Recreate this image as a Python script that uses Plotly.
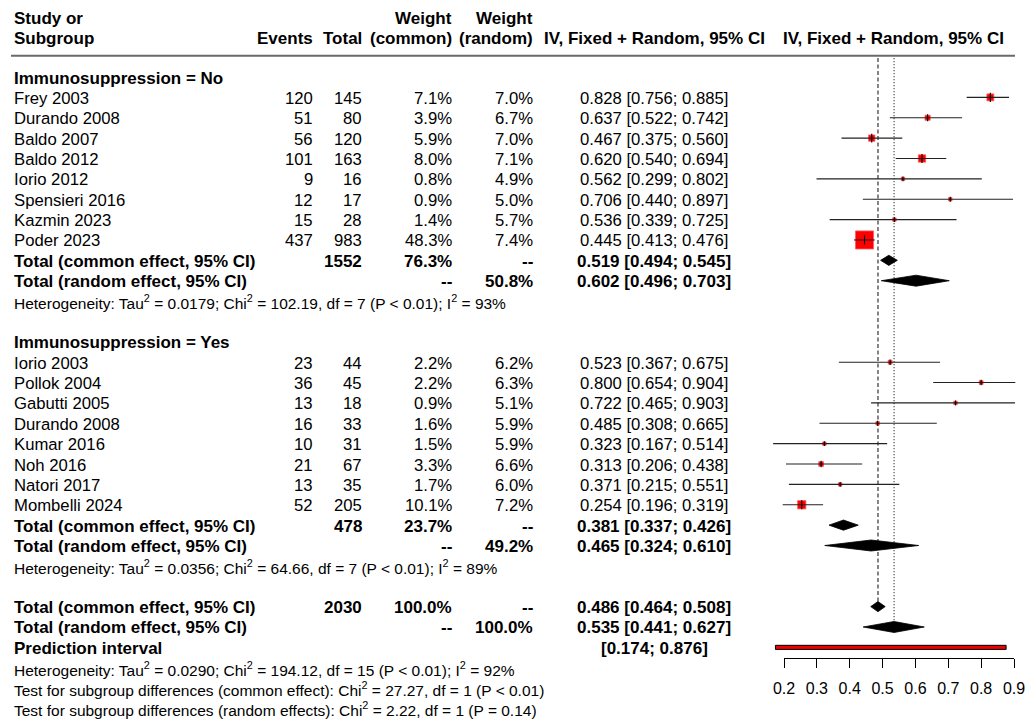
import plotly.graph_objects as go

# ---------------- data ----------------
study_no = ["Frey 2003", "Durando 2008", "Baldo 2007", "Baldo 2012", "Iorio 2012",
            "Spensieri 2016", "Kazmin 2023", "Poder 2023"]
events_no = [120, 51, 56, 101, 9, 12, 15, 437]
total_no = [145, 80, 120, 163, 16, 17, 28, 983]
wcom_no = [7.1, 3.9, 5.9, 8.0, 0.8, 0.9, 1.4, 48.3]
wran_no = [7.0, 6.7, 7.0, 7.1, 4.9, 5.0, 5.7, 7.4]
est_no = [0.828, 0.637, 0.467, 0.620, 0.562, 0.706, 0.536, 0.445]
lo_no = [0.756, 0.522, 0.375, 0.540, 0.299, 0.440, 0.339, 0.413]
hi_no = [0.885, 0.742, 0.560, 0.694, 0.802, 0.897, 0.725, 0.476]

study_yes = ["Iorio 2003", "Pollok 2004", "Gabutti 2005", "Durando 2008", "Kumar 2016",
             "Noh 2016", "Natori 2017", "Mombelli 2024"]
events_yes = [23, 36, 13, 16, 10, 21, 13, 52]
total_yes = [44, 45, 18, 33, 31, 67, 35, 205]
wcom_yes = [2.2, 2.2, 0.9, 1.6, 1.5, 3.3, 1.7, 10.1]
wran_yes = [6.2, 6.3, 5.1, 5.9, 5.9, 6.6, 6.0, 7.2]
est_yes = [0.523, 0.800, 0.722, 0.485, 0.323, 0.313, 0.371, 0.254]
lo_yes = [0.367, 0.654, 0.465, 0.308, 0.167, 0.206, 0.215, 0.196]
hi_yes = [0.675, 0.904, 0.903, 0.665, 0.514, 0.438, 0.551, 0.319]

subgroup_labels = ["Immunosuppression = No", "Immunosuppression = Yes"]
sub_total = [1552, 478]
sub_wcom = [76.3, 23.7]
sub_wran = [50.8, 49.2]
sub_com_est = [0.519, 0.381]
sub_com_lo = [0.494, 0.337]
sub_com_hi = [0.545, 0.426]
sub_ran_est = [0.602, 0.465]
sub_ran_lo = [0.496, 0.324]
sub_ran_hi = [0.703, 0.610]
sub_tau2 = ["0.0179", "0.0356"]
sub_chi2 = ["102.19", "64.66"]
sub_df = [7, 7]
sub_p = ["P < 0.01", "P < 0.01"]
sub_i2 = [93, 89]

all_total = 2030
all_com = [0.486, 0.464, 0.508]
all_ran = [0.535, 0.441, 0.627]
pred_int = [0.174, 0.876]
all_tau2, all_chi2, all_df, all_p, all_i2 = "0.0290", "194.12", 15, "P < 0.01", 92
test_com = ["27.27", 1, "P < 0.01"]
test_ran = ["2.22", 1, "P = 0.14"]

tick_vals = [0.2, 0.3, 0.4, 0.5, 0.6, 0.7, 0.8, 0.9]

# ---------------- geometry ----------------
W, H = 1026, 722
ROW0, ROWH = 77.0, 20.37
FONT = "Liberation Sans, Arial, sans-serif"
FS = 16.7
FSB = 17.0
FS_H = 15.5
YS = -1

C_STUDY, C_EV, C_TOT, C_WC, C_WR, C_CI, C_FH = 12, 315, 364, 454, 535, 654, 893
X02, X09 = 784.0, 1014.0
PPU = (X09 - X02) / 0.7
XL, XR = 0.1, 0.93


def prow(p):
    return (p - ROW0) / ROWH


ann = []


def txt(xp, row, s, anchor="left", bold=False, size=None):
    if size is None:
        size = FSB if bold else FS
    ann.append(dict(x=xp / W, xref="paper", y=row, yref="y",
                    text=(f"<b>{s}</b>" if bold else s), showarrow=False,
                    xanchor=anchor, yanchor="middle", yshift=YS,
                    font=dict(family=FONT, size=size, color="black")))


def ci(e, l, h):
    return f"{e:.3f} [{l:.3f}; {h:.3f}]"


fig = go.Figure()

# header
txt(C_STUDY, prow(17.3), "Study or", bold=True)
txt(C_STUDY, prow(37.5), "Subgroup", bold=True)
txt(C_EV, prow(37.5), "Events", "right", True)
txt(C_TOT, prow(37.5), "Total", "right", True)
txt(C_WC, prow(17.3), "Weight", "right", True)
txt(C_WC, prow(37.5), "(common)", "right", True)
txt(C_WR, prow(17.3), "Weight", "right", True)
txt(C_WR, prow(37.5), "(random)", "right", True)
txt(C_CI, prow(37.5), "IV, Fixed + Random, 95% CI", "center", True)
txt(C_FH, prow(37.5), "IV, Fixed + Random, 95% CI", "center", True)

groups = [
    (study_no, events_no, total_no, wcom_no, wran_no, est_no, lo_no, hi_no),
    (study_yes, events_yes, total_yes, wcom_yes, wran_yes, est_yes, lo_yes, hi_yes),
]

sq_x, sq_y, sq_s, tk_s = [], [], [], []
ln_x, ln_y = [], []
diamonds = []

r = 0
for g, (st, ev, to, wc, wr, es, lo, hi) in enumerate(groups):
    txt(C_STUDY, r, subgroup_labels[g], bold=True)
    r += 1
    for i in range(len(st)):
        txt(C_STUDY, r, st[i])
        txt(C_EV, r, str(ev[i]), "right")
        txt(C_TOT, r, str(to[i]), "right")
        txt(C_WC, r, f"{wc[i]:.1f}%", "right")
        txt(C_WR, r, f"{wr[i]:.1f}%", "right")
        txt(C_CI, r, ci(es[i], lo[i], hi[i]), "center")
        s = max(3.5, 2.6 * wc[i] ** 0.5)
        sq_x.append(es[i]); sq_y.append(r); sq_s.append(s)
        tk_s.append(min(6.5, max(3.5, s)))
        ln_x += [lo[i], hi[i], None]; ln_y += [r, r, None]
        r += 1
    txt(C_STUDY, r, "Total (common effect, 95% CI)", bold=True)
    txt(C_TOT, r, str(sub_total[g]), "right", True)
    txt(C_WC, r, f"{sub_wcom[g]:.1f}%", "right", True)
    txt(C_WR, r, "--", "right", True)
    txt(C_CI, r, ci(sub_com_est[g], sub_com_lo[g], sub_com_hi[g]), "center", True)
    diamonds.append((sub_com_est[g], sub_com_lo[g], sub_com_hi[g], r, 0.25))
    r += 1
    txt(C_STUDY, r, "Total (random effect, 95% CI)", bold=True)
    txt(C_WC, r, "--", "right", True)
    txt(C_WR, r, f"{sub_wran[g]:.1f}%", "right", True)
    txt(C_CI, r, ci(sub_ran_est[g], sub_ran_lo[g], sub_ran_hi[g]), "center", True)
    diamonds.append((sub_ran_est[g], sub_ran_lo[g], sub_ran_hi[g], r, 0.27))
    r += 1
    txt(C_STUDY, r, f"Heterogeneity: Tau<sup>2</sup> = {sub_tau2[g]}; Chi<sup>2</sup> = {sub_chi2[g]}, "
        f"df = {sub_df[g]} ({sub_p[g]}); I<sup>2</sup> = {sub_i2[g]}%", size=FS_H)
    r += 2

# overall
txt(C_STUDY, r, "Total (common effect, 95% CI)", bold=True)
txt(C_TOT, r, str(all_total), "right", True)
txt(C_WC, r, "100.0%", "right", True)
txt(C_WR, r, "--", "right", True)
txt(C_CI, r, ci(*all_com), "center", True)
diamonds.append((all_com[0], all_com[1], all_com[2], r, 0.25))
row_all_com = r
r += 1
txt(C_STUDY, r, "Total (random effect, 95% CI)", bold=True)
txt(C_WC, r, "--", "right", True)
txt(C_WR, r, "100.0%", "right", True)
txt(C_CI, r, ci(*all_ran), "center", True)
diamonds.append((all_ran[0], all_ran[1], all_ran[2], r, 0.27))
row_all_ran = r
r += 1
txt(C_STUDY, r, "Prediction interval", bold=True)
txt(C_CI, r, f"[{pred_int[0]:.3f}; {pred_int[1]:.3f}]", "center", True)
row_pred = r
r += 1
txt(C_STUDY, r, f"Heterogeneity: Tau<sup>2</sup> = {all_tau2}; Chi<sup>2</sup> = {all_chi2}, "
    f"df = {all_df} ({all_p}); I<sup>2</sup> = {all_i2}%", size=FS_H)
r += 1
txt(C_STUDY, r, f"Test for subgroup differences (common effect): Chi<sup>2</sup> = {test_com[0]}, "
    f"df = {test_com[1]} ({test_com[2]})", size=FS_H)
r += 1
txt(C_STUDY, r, f"Test for subgroup differences (random effects): Chi<sup>2</sup> = {test_ran[0]}, "
    f"df = {test_ran[1]} ({test_ran[2]})", size=FS_H)

# reference lines
top = prow(58)
fig.add_trace(go.Scatter(x=[all_com[0], all_com[0]], y=[top, row_all_com - 0.25],
                         mode="lines", line=dict(color="#777777", width=1.8, dash="4px,2.5px"),
                         hoverinfo="skip"))
fig.add_trace(go.Scatter(x=[all_ran[0], all_ran[0]], y=[top, row_all_ran - 0.27],
                         mode="lines", line=dict(color="#444444", width=1.1, dash="1.2px,1.8px"),
                         hoverinfo="skip"))

# squares
fig.add_trace(go.Scatter(x=sq_x, y=sq_y, mode="markers",
                         marker=dict(symbol="square", color="#ff0000", size=sq_s, opacity=1,
                                     line=dict(width=0.8, color="#ff5a5a")),
                         hoverinfo="skip"))
# CI lines
fig.add_trace(go.Scatter(x=ln_x, y=ln_y, mode="lines", line=dict(color="#222222", width=1.1),
                         hoverinfo="skip"))
# estimate ticks
fig.add_trace(go.Scatter(x=sq_x, y=sq_y, mode="markers",
                         marker=dict(symbol="line-ns", size=tk_s, color="black", opacity=1,
                                     line=dict(width=1.1, color="black")),
                         hoverinfo="skip"))
# diamonds
for e, l, h, rr, hh in diamonds:
    fig.add_trace(go.Scatter(x=[l, e, h, e, l], y=[rr, rr - hh, rr, rr + hh, rr],
                             mode="lines", fill="toself", fillcolor="black",
                             line=dict(color="black", width=0.8), hoverinfo="skip"))
# prediction interval
pl, ph = pred_int
fig.add_trace(go.Scatter(x=[pl, ph, ph, pl, pl],
                         y=[row_pred - 0.1, row_pred - 0.1, row_pred + 0.1, row_pred + 0.1, row_pred - 0.1],
                         mode="lines", fill="toself", fillcolor="#ee0000",
                         line=dict(color="black", width=1), hoverinfo="skip"))

# axis carrier trace
fig.add_trace(go.Scatter(x=[None], y=[None], xaxis="x2", yaxis="y", hoverinfo="skip"))

fig.update_layout(
    width=W, height=H, margin=dict(l=0, r=0, t=0, b=0, pad=0, autoexpand=False),
    paper_bgcolor="white", plot_bgcolor="rgba(0,0,0,0)", showlegend=False,
    xaxis=dict(range=[XL, XR], domain=[(X02 - (0.2 - XL) * PPU) / W, (X09 + (XR - 0.9) * PPU) / W],
               visible=False, automargin=False),
    xaxis2=dict(range=[0.2, 0.9], domain=[X02 / W, X09 / W], anchor="free",
                position=1 - 658.3 / H, side="bottom", showline=True, linecolor="black",
                linewidth=1, ticks="outside", ticklen=9, tickwidth=1, tickcolor="black",
                tickvals=tick_vals, ticktext=[f"{v:.1f}" for v in tick_vals],
                ticklabelstandoff=6, automargin=False,
                tickfont=dict(family=FONT, size=16, color="black"),
                showgrid=False, zeroline=False, fixedrange=True),
    yaxis=dict(range=[(H - ROW0) / ROWH, -ROW0 / ROWH], domain=[0, 1], visible=False,
               automargin=False),
    annotations=ann,
    shapes=[dict(type="line", xref="paper", yref="paper", x0=11 / W, x1=1015 / W,
                 y0=1 - 55.7 / H, y1=1 - 55.7 / H, line=dict(color="#6a6a6a", width=2))],
)

fig.write_html("out.html", config={"displayModeBar": False},
               post_script="document.body.style.margin='0px';document.body.style.padding='0px';"
                           "document.body.style.overflow='hidden';")
